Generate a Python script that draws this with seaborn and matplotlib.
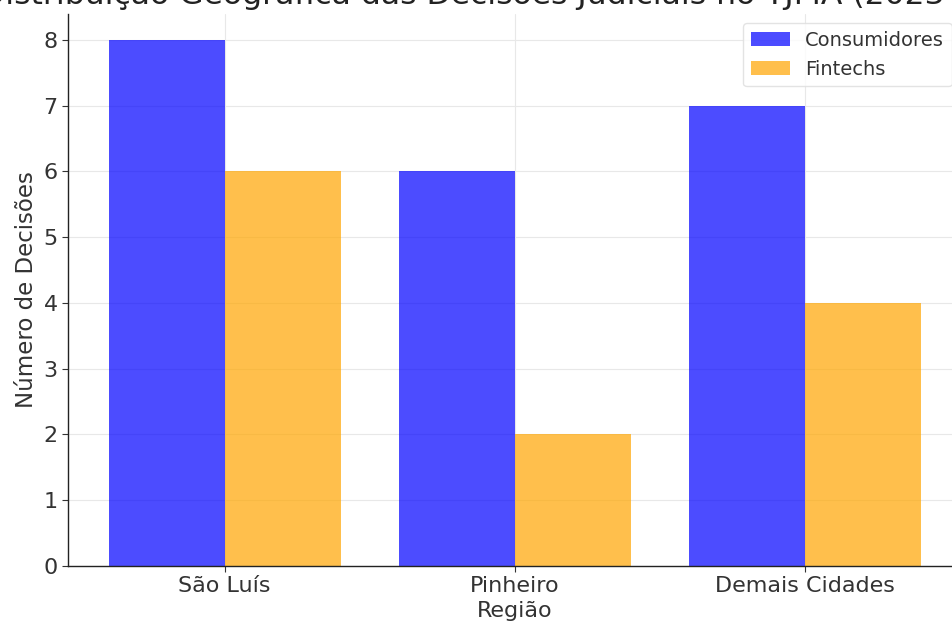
import matplotlib
matplotlib.use("Agg")
import matplotlib.pyplot as plt
import seaborn as sns
import pandas as pd

regioes = ["São Luís", "Pinheiro", "Demais Cidades"]
consumidores = [8, 6, 7]
fintechs = [6, 2, 4]
series = ["Consumidores", "Fintechs"]
cores = ["blue", "orange"]

df = pd.DataFrame({
    "Região": regioes * 2,
    "Decisões": consumidores + fintechs,
    "Parte": [series[0]] * len(regioes) + [series[1]] * len(regioes),
})

sns.set_theme(style="whitegrid")
plt.rcParams["font.family"] = ["DejaVu Sans"]

fig = plt.figure(figsize=(9.53, 6.26), dpi=100)
ax = fig.add_axes([68 / 953, 60 / 626, 893.6 / 953, 552.5 / 626])

sns.barplot(data=df, x="Região", y="Decisões", hue="Parte", hue_order=series,
            palette=cores, alpha=0.7, saturation=1, linewidth=0, ax=ax)

ax.set_xlim(-0.54, 2.54)
ax.set_ylim(0, 8.4)
ax.set_yticks(range(0, 9))

ax.set_title("Distribuição Geográfica das Decisões Judiciais no TJMA (2023-2024)",
             fontsize=22.6, color="#222222", pad=7)
ax.set_xlabel("Região", fontsize=16, color="#333333", labelpad=3)
ax.set_ylabel("Número de Decisões", fontsize=16.5, color="#333333")
ax.tick_params(axis="both", labelsize=16, colors="#333333", length=4,
               width=0.8, direction="out", left=True, bottom=True)

ax.grid(True, color="#e8e8e8", linewidth=0.8)
ax.set_axisbelow(True)
for side in ["top", "right"]:
    ax.spines[side].set_visible(False)
for side in ["left", "bottom"]:
    ax.spines[side].set_visible(True)
    ax.spines[side].set_color("#222222")
    ax.spines[side].set_linewidth(1.0)

leg = ax.legend(loc="upper right", fontsize=14, frameon=True, title=None,
                borderaxespad=0.5)
leg.get_frame().set_edgecolor("#dddddd")
for t in leg.get_texts():
    t.set_color("#333333")

fig.savefig("out.png", dpi=100)
